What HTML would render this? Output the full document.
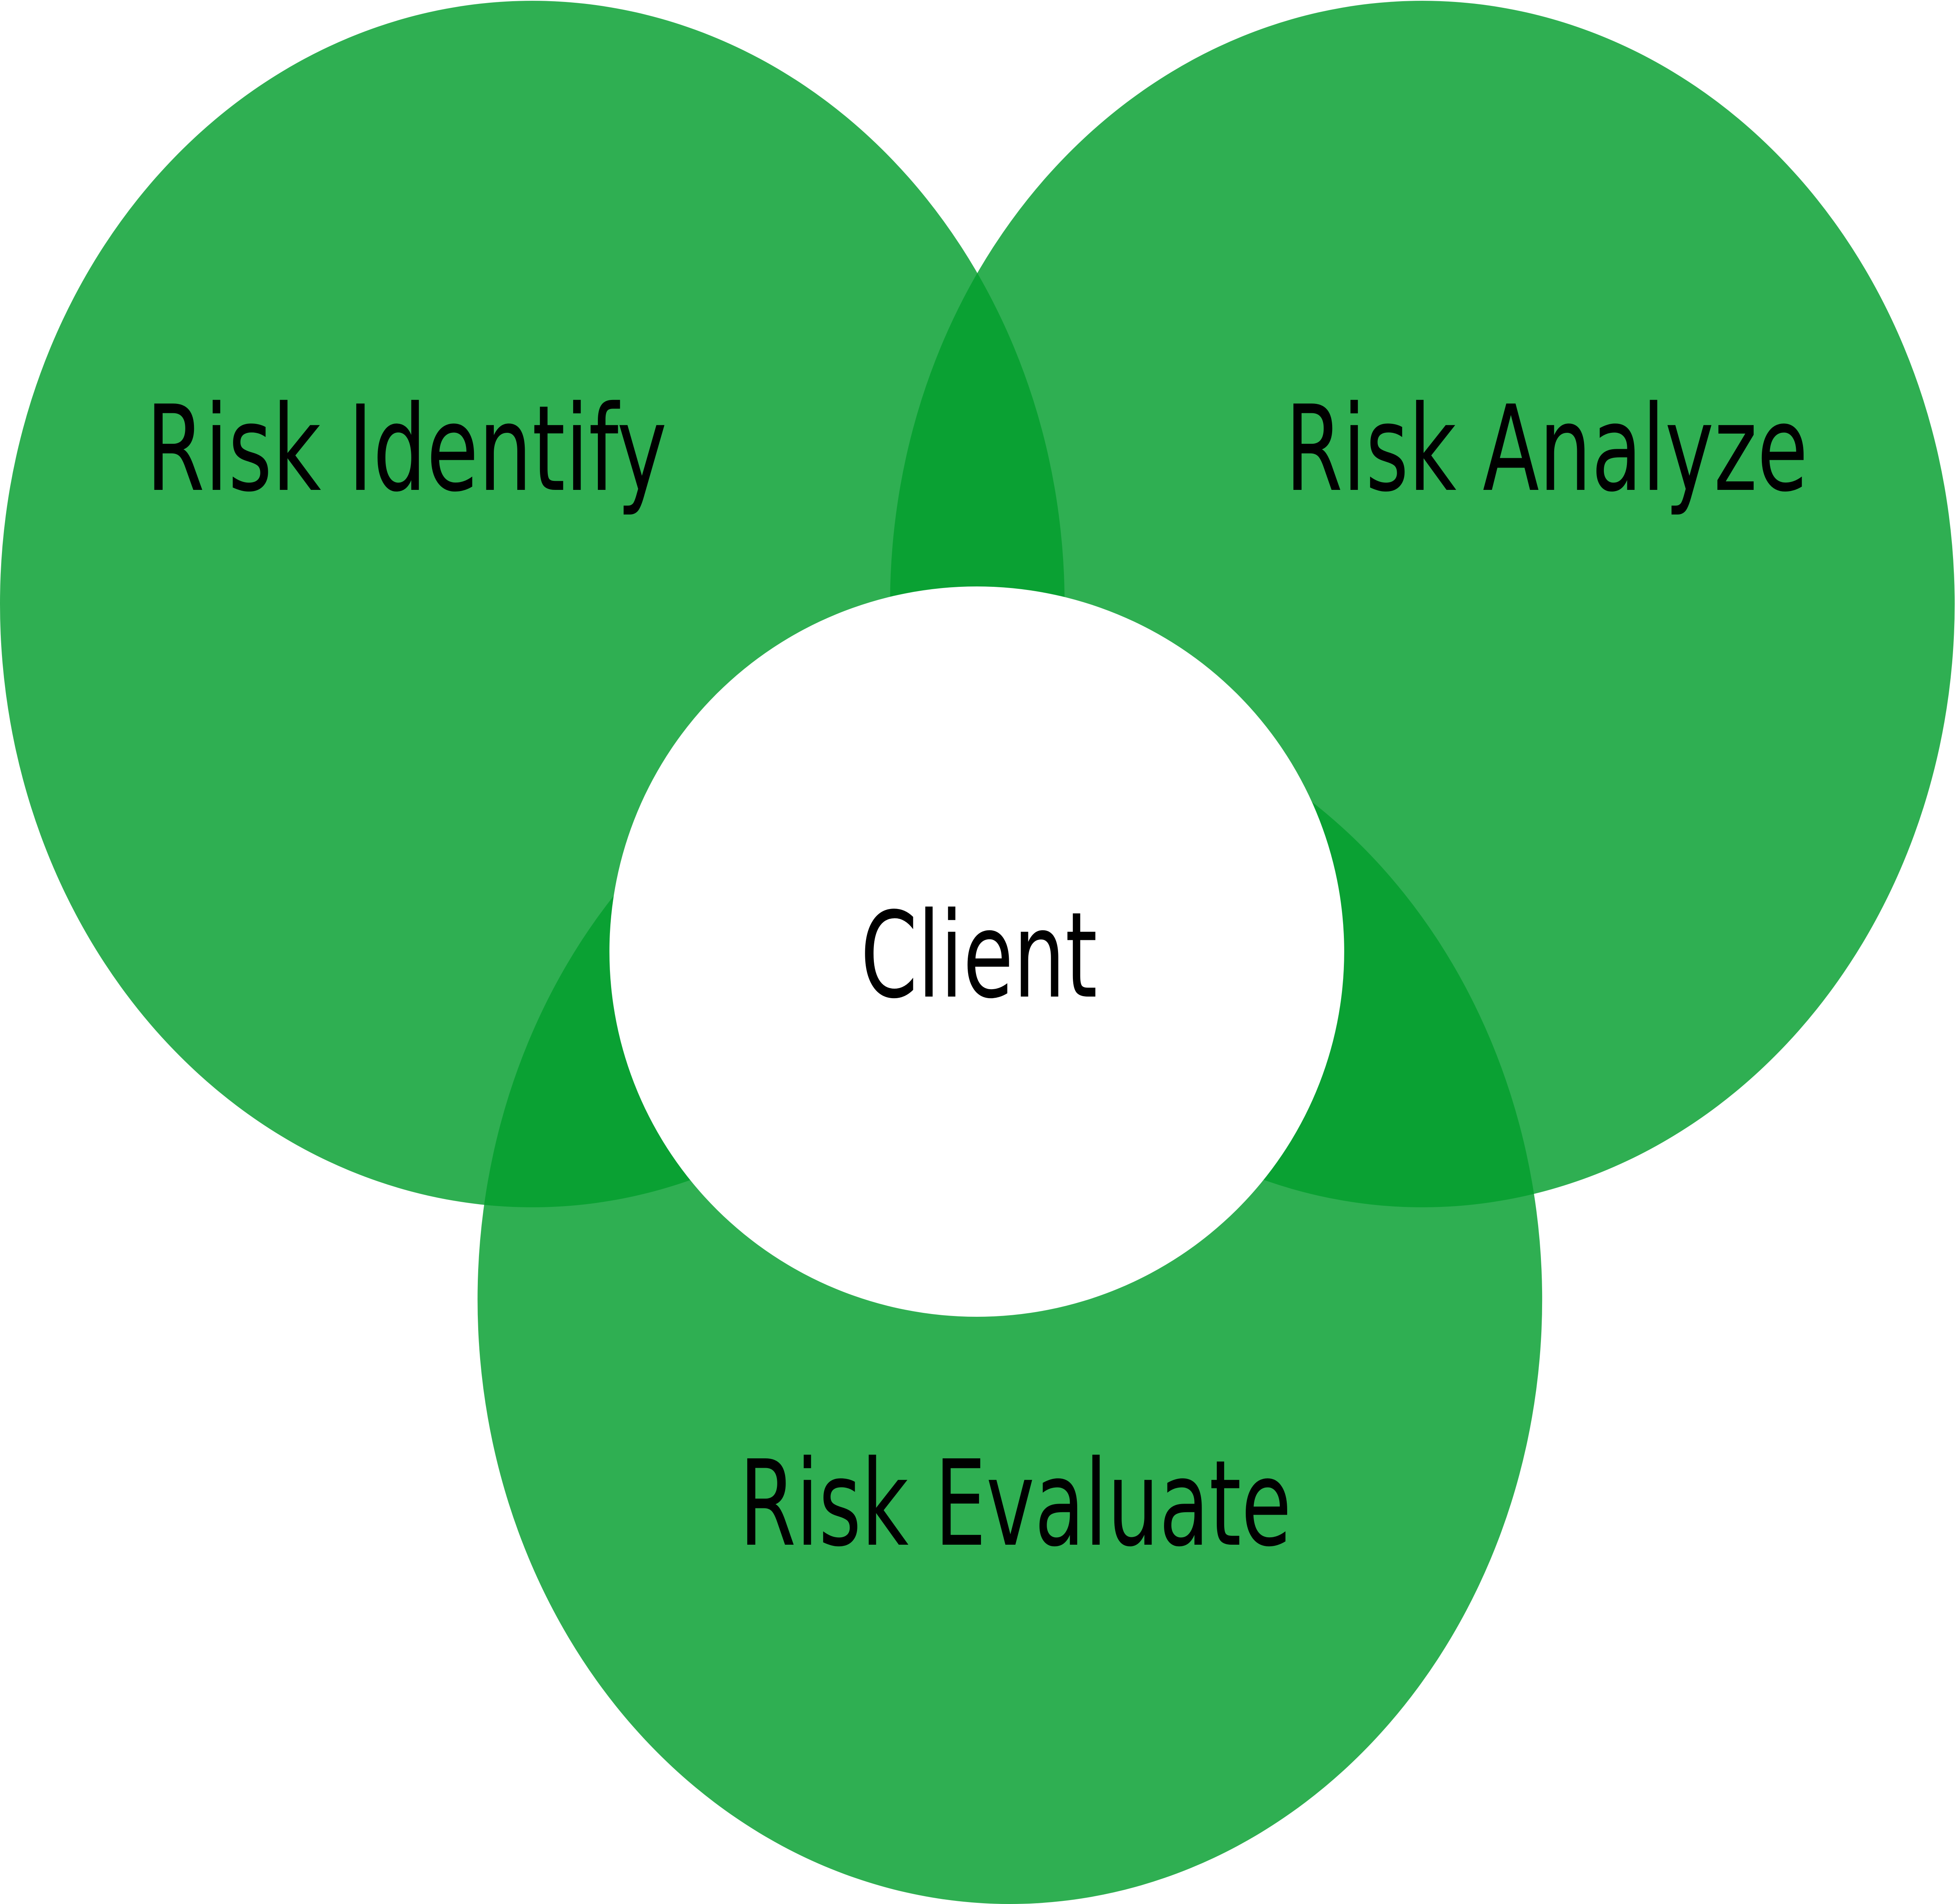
<!DOCTYPE html>
<html><head><style>html,body{margin:0;padding:0;background:#fff;overflow:hidden;width:100%;height:100%;}svg{display:block;position:fixed;left:0;top:0;width:100vw;height:100vh;}</style></head>
<body>
<svg viewBox="0 0 5678 4870" preserveAspectRatio="none" xmlns="http://www.w3.org/2000/svg">
<rect width="5678" height="4870" fill="#fff"/>
<g fill="rgb(2,158,45)" fill-opacity="0.825">
<ellipse cx="1546" cy="1545" rx="1546" ry="1543"/>
<ellipse cx="4131" cy="1545" rx="1546" ry="1543"/>
<ellipse cx="2933" cy="3324" rx="1546" ry="1546"/>
</g>
<ellipse cx="2837" cy="2434" rx="1067" ry="934" fill="#fff"/>
<g font-family="DejaVu Sans, Liberation Sans, sans-serif" font-size="303" fill="#000">
<text x="424" y="1253" textLength="1513" lengthAdjust="spacingAndGlyphs">Risk Identify</text>
<text x="3733" y="1253" textLength="1518" lengthAdjust="spacingAndGlyphs">Risk Analyze</text>
<text x="2499" y="2549" textLength="688" lengthAdjust="spacingAndGlyphs">Client</text>
<text x="2147" y="3951" textLength="1604" lengthAdjust="spacingAndGlyphs">Risk Evaluate</text>
</g>
</svg>
</body></html>
